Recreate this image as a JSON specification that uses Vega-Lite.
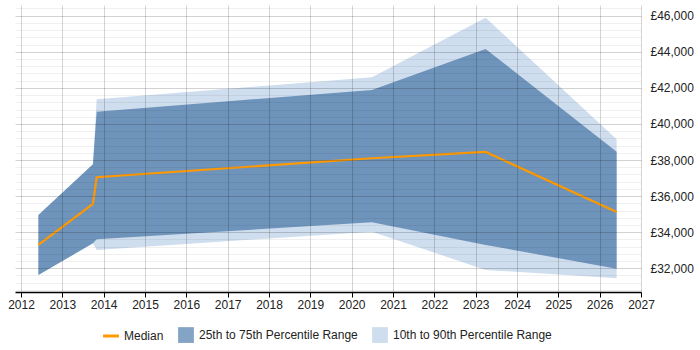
{
  "$schema": "https://vega.github.io/schema/vega-lite/v6.json",
  "width": 626,
  "height": 287,
  "autosize": {"type": "none"},
  "padding": {"left": 15, "top": 5, "right": 59, "bottom": 58},
  "background": "white",
  "config": {
    "view": {"stroke": null},
    "font": "Liberation Sans",
    "axis": {"labelFont": "Liberation Sans", "labelFontSize": 12, "labelColor": "#222"}
  },
  "data": {
    "values": [
      {"year": 2012.42, "p10": 31630, "p25": 31630, "p50": 33290, "p75": 34955, "p90": 34955},
      {"year": 2013.74, "p10": 33386, "p25": 33386, "p50": 35565, "p75": 37765, "p90": 37765},
      {"year": 2013.83, "p10": 33014, "p25": 33607, "p50": 37044, "p75": 40681, "p90": 41368},
      {"year": 2020.49, "p10": 34029, "p25": 34550, "p50": 38097, "p75": 41884, "p90": 42588},
      {"year": 2023.24, "p10": 31906, "p25": 33292, "p50": 38447, "p75": 44156, "p90": 45891},
      {"year": 2026.41, "p10": 31446, "p25": 31978, "p50": 35121, "p75": 38463, "p90": 39151}
    ]
  },
  "encoding": {
    "x": {
      "field": "year", "type": "quantitative",
      "scale": {"domain": [2011.854, 2027], "nice": false, "zero": false},
      "axis": {
        "title": null, "values": [2012,2013,2014,2015,2016,2017,2018,2019,2020,2021,2022,2023,2024,2025,2026,2027],
        "format": "d", "grid": true, "gridColor": "#000", "gridOpacity": 0.17,
        "domainColor": "#000", "domainWidth": 1.5, "tickColor": "#000", "tickSize": 5,
        "labelPadding": 2, "zindex": 1, "labelFlush": false
      }
    }
  },
  "layer": [
    {
      "mark": {"type": "area", "opacity": 1},
      "encoding": {
        "y": {
          "field": "p90", "type": "quantitative",
          "scale": {"domain": [30684, 46593], "nice": false, "zero": false},
          "axis": {
            "orient": "right", "title": null, "grid": true, "gridColor": "#000", "gridOpacity": 0.06,
            "values": [30800,31200,31600,32000,32400,32800,33200,33600,34000,34400,34800,35200,35600,36000,36400,36800,37200,37600,38000,38400,38800,39200,39600,40000,40400,40800,41200,41600,42000,42400,42800,43200,43600,44000,44400,44800,45200,45600,46000,46400],
            "labels": false, "ticks": false, "domain": false, "zindex": 1
          }
        },
        "y2": {"field": "p10"},
        "color": {"datum": "10th to 90th Percentile Range"}
      }
    },
    {
      "mark": {"type": "area", "opacity": 1},
      "encoding": {
        "y": {"field": "p75", "type": "quantitative", "axis": null},
        "y2": {"field": "p25"},
        "color": {"datum": "25th to 75th Percentile Range"}
      }
    },
    {
      "mark": {"type": "line", "strokeWidth": 2.2},
      "encoding": {
        "y": {
          "field": "p50", "type": "quantitative",
          "axis": {
            "orient": "right", "title": null, "grid": true, "gridColor": "#000", "gridOpacity": 0.12,
            "values": [32000,34000,36000,38000,40000,42000,44000,46000],
            "labelExpr": "'£' + format(datum.value, ',')",
            "ticks": false, "domain": false, "labelPadding": 9, "zindex": 1
          }
        },
        "color": {
          "datum": "Median",
          "type": "nominal",
          "scale": {
            "domain": ["Median", "25th to 75th Percentile Range", "10th to 90th Percentile Range"],
            "range": ["#ff9900", "#6f94bb", "#cfdeee"]
          },
          "legend": {
            "title": null, "orient": "none", "legendX": 90, "legendY": 324,
            "direction": "horizontal", "columns": 3, "columnPadding": 14,
            "labelFont": "Liberation Sans", "labelFontSize": 12, "labelColor": "#222",
            "labelOffset": 7, "symbolSize": 250,
            "encode": {
              "symbols": {
                "update": {
                  "shape": {"signal": "datum.value === 'Median' ? 'stroke' : 'square'"},
                  "strokeWidth": {"signal": "datum.value === 'Median' ? 3 : 0"},
                  "fill": {"signal": "datum.value === 'Median' ? 'transparent' : scale('color', datum.value)"},
                  "stroke": {"signal": "scale('color', datum.value)"},
                  "opacity": {"signal": "datum.value === '25th to 75th Percentile Range' ? 0.85 : 1"}
                }
              }
            }
          }
        }
      }
    }
  ],
  "resolve": {"axis": {"y": "independent"}}
}
